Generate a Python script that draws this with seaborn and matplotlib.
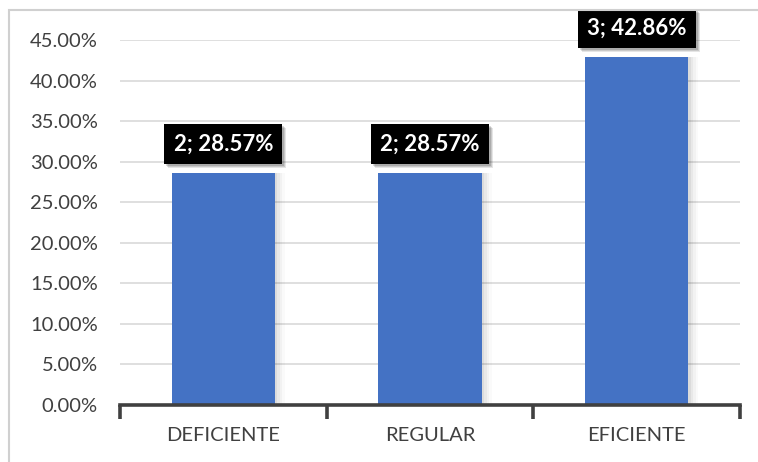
import matplotlib
matplotlib.use("Agg")
import matplotlib.pyplot as plt
import seaborn as sns
import pandas as pd
from matplotlib.patches import Rectangle
from matplotlib.ticker import FuncFormatter, MultipleLocator

categories = ["DEFICIENTE", "REGULAR", "EFICIENTE"]
counts = [2, 2, 3]
percents = [28.57, 28.57, 42.86]

df = pd.DataFrame({"categoria": categories, "pct": [p / 100 for p in percents]})

sns.set_theme(style="white")
plt.rcParams["font.family"] = ["Lato", "DejaVu Sans"]

fig = plt.figure(figsize=(7.58, 4.62), dpi=100)
ax = fig.add_axes([120 / 758, 1 - 405 / 462, 620 / 758, 365 / 462])

# soft drop shadow behind the bars
for a in [0.05, 0.04, 0.03, 0.02]:
    sns.barplot(data=df, x="categoria", y="pct", color="#000000", width=0.5,
                alpha=a, ax=ax, zorder=1)
for k, p in enumerate(list(ax.patches)):
    layer = k // 3
    p.set_x(p.get_x() + 0.012 * (layer + 1))
    p.set_linewidth(0)

n_shadow = len(ax.patches)
sns.barplot(data=df, x="categoria", y="pct", color="#4472C4", width=0.5,
            saturation=1, ax=ax, zorder=3)
for p in ax.patches[n_shadow:]:
    p.set_linewidth(0)

ax.set_ylim(0, 0.45)
ax.set_xlim(-0.5, 2.5)
ax.yaxis.set_major_locator(MultipleLocator(0.05))
ax.yaxis.set_major_formatter(FuncFormatter(lambda v, _: f"{v * 100:.2f}%"))
ax.grid(axis="y", color="#d9d9d9", linewidth=1.2, zorder=0)
ax.set_axisbelow(True)
for s in ["top", "right", "left"]:
    ax.spines[s].set_visible(False)
ax.spines["bottom"].set_color("#404040")
ax.spines["bottom"].set_linewidth(2.6)
ax.spines["bottom"].set_zorder(5)

ax.set_xlabel("")
ax.set_ylabel("")
ax.tick_params(axis="y", length=0, labelsize=14.5, labelcolor="#404040", pad=16)
ax.tick_params(axis="x", length=0, labelsize=14.5, labelcolor="#404040", pad=16)

# category separators on the axis
for xb in [-0.5, 0.5, 1.5, 2.5]:
    ax.plot([xb, xb], [0, -0.017], color="#404040", linewidth=2.6,
            clip_on=False, zorder=5, solid_capstyle="butt")

# value labels in black boxes
labels = []
for i, (c, p) in enumerate(zip(counts, percents)):
    t = ax.annotate(f"{c}; {p:.2f}%", xy=(i, p / 100), xytext=(0, 29),
                    textcoords="offset pixels", ha="center", va="center",
                    color="white", fontsize=16, fontweight="bold", zorder=6,
                    annotation_clip=False,
                    bbox=dict(boxstyle="square,pad=0.42", facecolor="black",
                              edgecolor="none"))
    labels.append(t)

# light shadow under each label box
fig.canvas.draw()
renderer = fig.canvas.get_renderer()
for t in labels:
    bb = t.get_bbox_patch().get_window_extent(renderer)
    for off, a in [(4, 0.10), (3, 0.12), (2, 0.14)]:
        ax.add_patch(Rectangle((bb.x0 + off, bb.y0 - off), bb.width, bb.height,
                               transform=None, facecolor=(0, 0, 0, a),
                               edgecolor="none", zorder=5.5, clip_on=False))

# chart frame
fig.patches.append(Rectangle((9 / 758, -0.1), 1.2, 1 - 10 / 462 + 0.1,
                             transform=fig.transFigure, fill=False,
                             edgecolor="#d0d0d0", linewidth=1.5))

fig.savefig("out.png", dpi=100)
